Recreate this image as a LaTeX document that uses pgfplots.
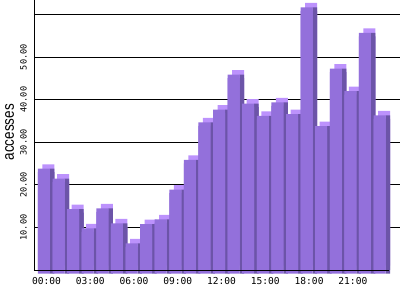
\documentclass[border=0pt]{standalone}
\usepackage{fontspec}
\usepackage{pgfplots}
\usepackage{pgfplotstable}
\pgfplotsset{compat=1.18}
\setmainfont{Liberation Sans}
\newfontfamily\monofont{DejaVu Sans Mono}
\definecolor{frontc}{RGB}{147,112,219}
\definecolor{topc}{RGB}{188,146,252}
\definecolor{sidec}{RGB}{108,84,168}
\pgfplotstableread{
x y
0 23.8
1 21.5
2 14.3
3 9.8
4 14.5
5 11.0
6 6.3
7 10.8
8 11.9
9 18.9
10 25.9
11 34.7
12 37.7
13 45.9
14 39.1
15 36.2
16 39.4
17 36.6
18 61.7
19 33.8
20 47.3
21 42.0
22 55.7
23 36.3
}\data
\begin{document}
\begin{tikzpicture}
\begin{axis}[
  scale only axis, width=366pt, height=270pt,
  xmin=-0.685, xmax=24.37, ymin=0, ymax=63.3,
  axis lines*=left,
  x axis line style={draw=none},
  y axis line style={line width=0.9pt},
  clip=false,
  major tick length=0pt,
  xtick={0,3,6,9,12,15,18,21},
  xticklabels={00:00,03:00,06:00,09:00,12:00,15:00,18:00,21:00},
  ytick={10,20,30,40,50,60},
  yticklabels={10.00,20.00,30.00,40.00,50.00,{}},
  ymajorgrids, grid style={black, line width=0.9pt},
  xticklabel style={font=\monofont\fontsize{9.6}{11}\selectfont, xshift=2.5pt, yshift=-4pt},
  yticklabel style={font=\monofont\fontsize{8.6}{10}\selectfont, rotate=90, anchor=south, inner ysep=7pt},
  ylabel={\scalebox{1}[1.2]{accesses}},
  every axis y label/.style={at={(axis description cs:-0.0669,0.511)}, rotate=90, anchor=center, font=\fontsize{13.5}{15}\selectfont},
]
\addplot[ybar, bar width=12pt, bar shift=4.5pt, yshift=4.5pt, fill=topc, draw=none] table {\data};
\addplot[ybar, bar width=4.5pt, bar shift=8.25pt, fill=sidec, draw=none] table {\data};
\addplot[ybar, bar width=4.5pt, bar shift=8.25pt, yshift=-3.5pt, fill=sidec, draw=none] table {\data};
\addplot[ybar, bar width=12pt, bar shift=0pt, yshift=-3.5pt, fill=frontc, draw=none] table {\data};
\addplot[ybar, bar width=12pt, bar shift=0pt, fill=frontc, draw=none] table {\data};
\draw[black, line width=0.9pt] (axis cs:-0.685,0) -- (axis cs:23.68,0);
\path (axis description cs:-0.0929,-0.1111) rectangle (axis description cs:1,1);
\end{axis}
\end{tikzpicture}
\end{document}
